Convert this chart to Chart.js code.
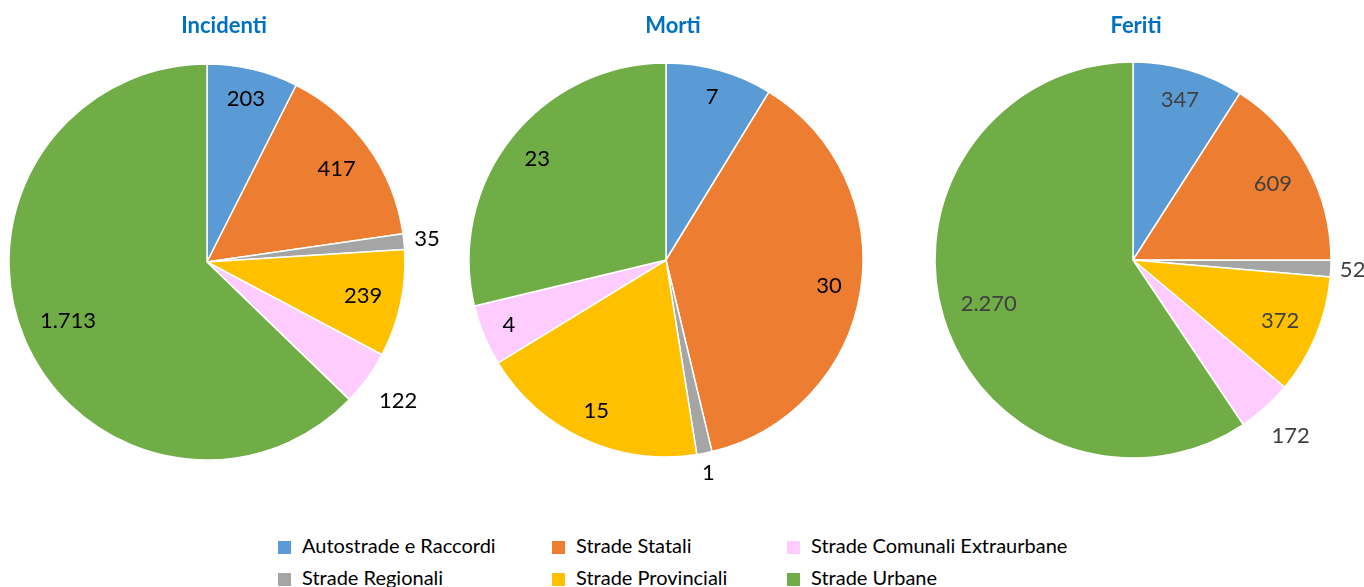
<!DOCTYPE html>
<html>
<head>
<meta charset="utf-8">
<script src="https://cdn.jsdelivr.net/npm/chart.js@4"></script>
<style>
    body { margin: 0; width: 1364px; height: 587px; overflow: hidden; background: #fff; position: relative; font-family: Lato, sans-serif; }
    canvas { position: absolute; top: 0; }
    .title { position: absolute; top: 11px; font: bold 22px Lato, sans-serif; color: #0070C0; transform: translateX(-50%); white-space: nowrap; }
    .leg { position: absolute; font-size: 20px; color: #000; white-space: nowrap; line-height: 20px; }
    .leg span { display: inline-block; width: 13px; height: 13px; margin-right: 11px; vertical-align: -1px; }
</style>
</head>
<body>
<script>
var categories = ['Autostrade e Raccordi', 'Strade Statali', 'Strade Regionali', 'Strade Provinciali', 'Strade Comunali Extraurbane', 'Strade Urbane'];
var colors = ['#5B9BD5', '#ED7D31', '#A5A5A5', '#FFC000', '#FFCCFF', '#70AD47'];
var titles = ['Incidenti', 'Morti', 'Feriti'];
var incidenti = [203, 417, 35, 239, 122, 1713];
var morti = [7, 30, 1, 15, 4, 23];
var feriti = [347, 609, 52, 372, 172, 2270];
var labelColors = ['#000000', '#000000', '#404040'];
// legend is laid out row by row in this order
var legendOrder = [0, 1, 4, 2, 3, 5];

var series = [incidenti, morti, feriti];
// pie centre, radius, title x
var places = [
    { cx: 206.5, cy: 262, r: 198, tx: 224 },
    { cx: 666, cy: 260, r: 197, tx: 673 },
    { cx: 1133, cy: 260, r: 198, tx: 1136 }
];

function fmt(v) {
    return v.toLocaleString('it-IT');
}

// value labels: inside the slice, or just outside it when the slice is thin
var sliceLabels = {
    id: 'sliceLabels',
    afterDatasetsDraw: function (chart) {
        var ctx = chart.ctx;
        var data = chart.data.datasets[0].data;
        var total = data.reduce(function (a, b) { return a + b; }, 0);
        var meta = chart.getDatasetMeta(0);
        ctx.save();
        ctx.font = '22px Lato, sans-serif';
        ctx.fillStyle = chart.options.plugins.sliceLabels.color;
        ctx.textAlign = 'center';
        ctx.textBaseline = 'middle';
        meta.data.forEach(function (arc, i) {
            var text = fmt(data[i]);
            var mid = (arc.startAngle + arc.endAngle) / 2;
            var cos = Math.cos(mid), sin = Math.sin(mid);
            var R = arc.outerRadius;
            var w = ctx.measureText(text).width;
            var half = Math.abs(cos) * w / 2 + Math.abs(sin) * 8;
            var rr;
            if (data[i] / total < 0.048) {
                var gap = 8 + 12 * Math.min(Math.abs(sin), Math.abs(cos)) / 0.707;
                rr = R + gap + half;
            } else {
                rr = R - 18 - half;
            }
            ctx.fillText(text, arc.x + cos * rr, arc.y + sin * rr);
        });
        ctx.restore();
    }
};

window.addEventListener('load', function () {
    series.forEach(function (vals, k) {
        var p = places[k];
        var cv = document.createElement('canvas');
        cv.width = 490;
        cv.height = 500;
        cv.style.left = (p.cx - 245) + 'px';
        cv.style.width = '490px';
        cv.style.height = '500px';
        document.body.appendChild(cv);

        var t = document.createElement('div');
        t.className = 'title';
        t.style.left = p.tx + 'px';
        t.textContent = titles[k];
        document.body.appendChild(t);

        var top = p.cy - p.r - 0.75;
        var bottom = 500 - top - (2 * p.r + 1.5);
        new Chart(cv.getContext('2d'), {
            type: 'pie',
            data: {
                labels: categories,
                datasets: [{
                    data: vals,
                    backgroundColor: colors,
                    borderColor: '#ffffff',
                    borderWidth: 1.5
                }]
            },
            options: {
                responsive: false,
                animation: false,
                layout: { padding: { top: top, bottom: bottom, left: 40, right: 40 } },
                plugins: {
                    legend: { display: false },
                    tooltip: { enabled: false },
                    sliceLabels: { color: labelColors[k] }
                }
            },
            plugins: [sliceLabels]
        });
    });

    var colX = [278, 552, 787];
    var rowY = [535, 567];
    legendOrder.forEach(function (idx, n) {
        var d = document.createElement('div');
        d.className = 'leg';
        d.style.left = colX[n % 3] + 'px';
        d.style.top = rowY[Math.floor(n / 3)] + 'px';
        var sw = document.createElement('span');
        sw.style.background = colors[idx];
        d.appendChild(sw);
        d.appendChild(document.createTextNode(categories[idx]));
        document.body.appendChild(d);
    });
});
</script>
</body>
</html>
